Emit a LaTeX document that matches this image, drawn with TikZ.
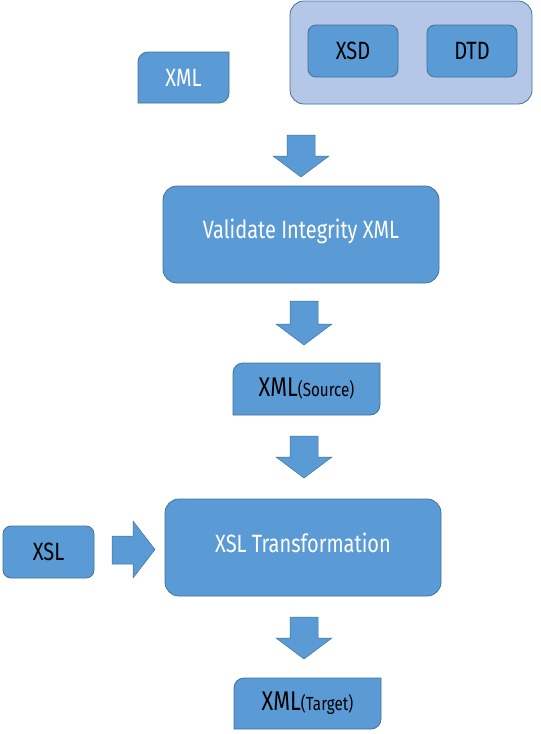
\documentclass[tikz,border=0pt]{standalone}
\usepackage{fontspec}
\setmainfont{Fira Sans}[FakeStretch=0.8]
\usepackage{tikz}
\definecolor{boxfill}{HTML}{5B9BD5}
\definecolor{boxline}{HTML}{41719C}
\definecolor{groupfill}{HTML}{B4C7E7}
\tikzset{
  blk/.style={fill=boxfill,draw=boxline,line width=0.8pt},
  lbl/.style={inner sep=0pt,font=\fontsize{25}{28}\selectfont},
}
% block arrow pointing down: centre x, top y, bottom y
\newcommand{\dnarrow}[3]{%
  \path[blk,line width=0.5pt] (#1-14,#2) -- (#1+14,#2) -- (#1+14,#3-21) -- (#1+28,#3-21)
    -- (#1,#3) -- (#1-28,#3-21) -- (#1-14,#3-21) -- cycle;
}

\begin{document}
\begin{tikzpicture}[x=1pt,y=-1pt]
  \path[use as bounding box] (0,0) rectangle (541,734);

  % schema group
  \path[fill=groupfill,draw=boxline,line width=0.8pt,rounded corners=14pt] (290,1) rectangle (532,104);
  \path[blk,rounded corners=8pt] (308,25) rectangle (398,77);
  \node[lbl] (xsd) at (353,51) {XSD};
  \path[blk,rounded corners=8pt] (427,25) rectangle (517,77);
  \node[lbl] (dtd) at (472,51) {DTD};

  % input document
  \path[blk] (138,103) -- (138,62) arc[start angle=180,end angle=270,radius=10]
    -- (229,52) -- (229,93) arc[start angle=0,end angle=90,radius=10] -- cycle;
  \node[lbl,white] (xml) at (183.5,77.5) {XML};

  \dnarrow{301}{135}{177}

  \path[blk,rounded corners=14pt] (163,186) rectangle (439,283);
  \node[lbl,white] (valid) at (301,231) {Validate Integrity XML};

  \dnarrow{304}{301}{345}

  \path[blk] (233,415) -- (233,373) arc[start angle=180,end angle=270,radius=10]
    -- (380,363) -- (380,405) arc[start angle=0,end angle=90,radius=10] -- cycle;
  \node[lbl] (src) at (306.5,389) {\fontsize{27}{30}\selectfont XML\fontsize{19}{22}\selectfont(Source)};

  \dnarrow{304}{436}{478}

  \path[blk,rounded corners=14pt] (165,499) rectangle (441,596);
  \node[lbl,white] (xslt) at (303,543) {XSL Transformation};

  \path[blk,rounded corners=8pt] (3,526) rectangle (94,578);
  \node[lbl] (xsl) at (48.5,552) {XSL};
  \path[blk,line width=0.5pt] (112,536) -- (133,536) -- (133,521) -- (155,549.5) -- (133,578)
    -- (133,564) -- (112,564) -- cycle;

  \dnarrow{304}{617}{659}

  \path[blk] (234,729) -- (234,688) arc[start angle=180,end angle=270,radius=10]
    -- (381,678) -- (381,719) arc[start angle=0,end angle=90,radius=10] -- cycle;
  \node[lbl] (tgt) at (307.5,703.5) {\fontsize{27}{30}\selectfont XML\fontsize{19}{22}\selectfont(Target)};
\end{tikzpicture}
\end{document}
